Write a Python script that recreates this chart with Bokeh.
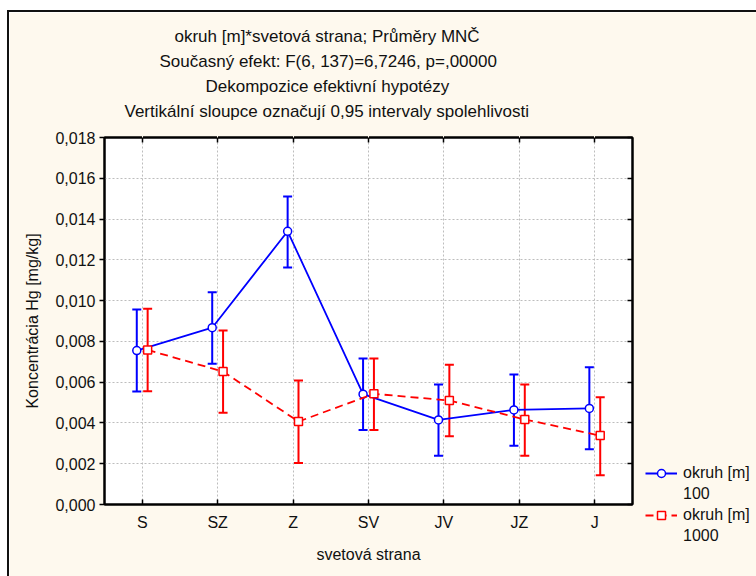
from bokeh.plotting import figure
from bokeh.models import (ColumnDataSource, Range1d, FixedTicker, LinearAxis, Whisker, TeeHead,
                          Legend, LegendItem, Title, CustomJSTickFormatter)
from bokeh.embed import file_html
from bokeh.resources import INLINE

# ---------------- data ----------------
categories = ["S", "SZ", "Z", "SV", "JV", "JZ", "J"]
mean_100 = [0.00755, 0.00867, 0.01340, 0.00541, 0.00415, 0.00464, 0.00471]
low_100 = [0.00554, 0.00690, 0.01162, 0.00365, 0.00239, 0.00288, 0.00271]
high_100 = [0.00956, 0.01041, 0.01511, 0.00716, 0.00589, 0.00638, 0.00673]
mean_1000 = [0.00758, 0.00652, 0.00407, 0.00543, 0.00510, 0.00417, 0.00338]
low_1000 = [0.00556, 0.00450, 0.00203, 0.00365, 0.00335, 0.00239, 0.00144]
high_1000 = [0.00960, 0.00853, 0.00608, 0.00716, 0.00685, 0.00589, 0.00526]
y_ticks = [0.000, 0.002, 0.004, 0.006, 0.008, 0.010, 0.012, 0.014, 0.016, 0.018]
titles = ["okruh [m]*svetová strana; Průměry MNČ",
          "Současný efekt: F(6, 137)=6,7246, p=,00000",
          "Dekompozice efektivní hypotézy",
          "Vertikální sloupce označují 0,95 intervaly spolehlivosti"]
series_names = ["okruh [m]", "okruh [m]"]
series_sub = ["100", "1000"]

# ---------------- styling ----------------
FONT = "Liberation Sans"
CREAM = "#FEF9EE"
BLUE = "#0000FF"
RED = "#FF0000"
OFF = 0.072
TITLE_OFFSETS = [70, 55, 101, 20]   # left offsets (px) of the title lines from the frame's left

idx = list(range(len(categories)))
src_a = ColumnDataSource(dict(x=[i - OFF for i in idx], y=mean_100, lo=low_100, hi=high_100))
src_b = ColumnDataSource(dict(x=[i + OFF for i in idx], y=mean_1000, lo=low_1000, hi=high_1000))

p = figure(frame_width=528, frame_height=367, output_backend="svg", toolbar_location=None,
           title=None,
           x_range=Range1d(-0.5, len(categories) - 0.5), y_range=Range1d(0, 0.018),
           min_border_left=95, min_border_top=125, min_border_right=124, min_border_bottom=72,
           background_fill_color="white", border_fill_color=CREAM)
p.margin = (10, 0, 0, 7)
p.styles = {"border-top": "2px solid #111", "border-left": "2px solid #111"}
p.outline_line_color = "black"
p.outline_line_width = 2

blank_fmt = CustomJSTickFormatter(code="return ''")

# axes
xa = p.xaxis[0]
xa.ticker = FixedTicker(ticks=idx)
xa.major_label_overrides = {i: c for i, c in zip(idx, categories)}
xa.axis_label = "svetová strana"
ya = p.yaxis[0]
ya.ticker = FixedTicker(ticks=y_ticks)
ya.formatter = CustomJSTickFormatter(code="return tick.toFixed(3).replace('.', ',')")
ya.axis_label = "Koncentrácia Hg [mg/kg]"
for ax in (xa, ya):
    ax.axis_line_color = "black"
    ax.axis_line_width = 2
    ax.major_tick_line_color = "black"
    ax.major_tick_line_width = 1.5
    ax.minor_tick_line_color = None
    ax.major_label_text_font = FONT
    ax.major_label_text_font_size = "16px"
    ax.major_label_text_color = "#111"
    ax.axis_label_text_font = FONT
    ax.axis_label_text_font_size = "16px"
    ax.axis_label_text_font_style = "normal"
    ax.axis_label_text_color = "#111"
xa.major_tick_in = 5
xa.major_tick_out = 0
xa.major_label_standoff = 9
xa.axis_label_standoff = 12
ya.major_tick_in = 0
ya.major_tick_out = 5
ya.major_label_standoff = 4
ya.axis_label_standoff = 11

ra = LinearAxis(ticker=FixedTicker(ticks=y_ticks), formatter=blank_fmt,
                major_label_standoff=0, major_tick_in=5, major_tick_out=0,
                minor_tick_line_color=None, axis_line_width=2, major_tick_line_width=1.5)
p.add_layout(ra, "right")
ta = LinearAxis(ticker=FixedTicker(ticks=idx), formatter=blank_fmt,
                major_label_standoff=0, major_tick_in=5, major_tick_out=0,
                minor_tick_line_color=None, axis_line_width=2, major_tick_line_width=1.5)
p.add_layout(ta, "above")
# invisible spacer (cream ticks on the cream border) between the frame and the titles
spacer = LinearAxis(ticker=FixedTicker(ticks=idx), formatter=blank_fmt, axis_line_color=None,
                    major_tick_line_color=CREAM, minor_tick_line_color=None,
                    major_tick_in=0, major_tick_out=15, major_label_standoff=0)
p.add_layout(spacer, "above")

# title lines (closest to the frame first)
for txt, off in reversed(list(zip(titles, TITLE_OFFSETS))):
    p.add_layout(Title(text=txt, align="left", offset=off, standoff=4,
                       text_font=FONT, text_font_size="17px", text_font_style="normal",
                       text_color="#111"), "above")

for g in (p.xgrid[0], p.ygrid[0]):
    g.grid_line_color = "#BDBDBD"
    g.grid_line_dash = "2 2"
    g.grid_line_width = 1
p.xgrid[0].ticker = FixedTicker(ticks=idx)
p.ygrid[0].ticker = FixedTicker(ticks=y_ticks)

# error bars
for src, col in ((src_a, BLUE), (src_b, RED)):
    w = Whisker(base="x", lower="lo", upper="hi", source=src, dimension="height",
                line_color=col, line_width=2, level="underlay",
                upper_head=TeeHead(size=9, line_color=col, line_width=2),
                lower_head=TeeHead(size=9, line_color=col, line_width=2))
    p.add_layout(w)

line_kw_a = dict(line_color=BLUE, line_width=1.8)
mark_kw_a = dict(marker="circle", size=8, fill_color="white", line_color=BLUE, line_width=1.5)
line_kw_b = dict(line_color=RED, line_width=1.8, line_dash="8 5")
mark_kw_b = dict(marker="square", size=8, fill_color="white", line_color=RED, line_width=1.5)

p.line("x", "y", source=src_a, **line_kw_a)
p.scatter("x", "y", source=src_a, **mark_kw_a)
p.line("x", "y", source=src_b, **line_kw_b)
p.scatter("x", "y", source=src_b, **mark_kw_b)

# ---------------- legend strip laid over the right border ----------------
lg = figure(width=116, height=564, output_backend="svg", toolbar_location=None, title=None,
            x_range=Range1d(100, 101), y_range=Range1d(100, 101),
            x_axis_type=None, y_axis_type=None,
            min_border_left=0, min_border_right=0, min_border_top=0, min_border_bottom=0,
            background_fill_color=CREAM, border_fill_color=CREAM)
lg.outline_line_color = None
lg.grid.visible = False
lg.styles = {"position": "absolute", "left": "640px", "top": "12px"}
# same series (outside this strip's view) serve as legend swatches
sw_la = lg.line("x", "y", source=src_a, **line_kw_a)
sw_ma = lg.scatter("x", "y", source=src_a, **mark_kw_a)
sw_lb = lg.line("x", "y", source=src_b, **line_kw_b)
sw_mb = lg.scatter("x", "y", source=src_b, **mark_kw_b)
sw_blank = lg.line("x", "y", source=src_a, line_alpha=0)

legend = Legend(items=[LegendItem(label=series_names[0], renderers=[sw_la, sw_ma]),
                       LegendItem(label=series_sub[0], renderers=[sw_blank]),
                       LegendItem(label=series_names[1], renderers=[sw_lb, sw_mb]),
                       LegendItem(label=series_sub[1], renderers=[sw_blank])],
                location=(5, 30), orientation="vertical",
                label_text_font=FONT, label_text_font_size="16px", label_text_color="#111",
                glyph_width=32, glyph_height=20, label_standoff=6, label_height=20,
                padding=0, margin=0, spacing=1,
                border_line_alpha=0, background_fill_alpha=0)
lg.add_layout(legend, "center")

open("out.html", "w").write(file_html([p, lg], INLINE))
